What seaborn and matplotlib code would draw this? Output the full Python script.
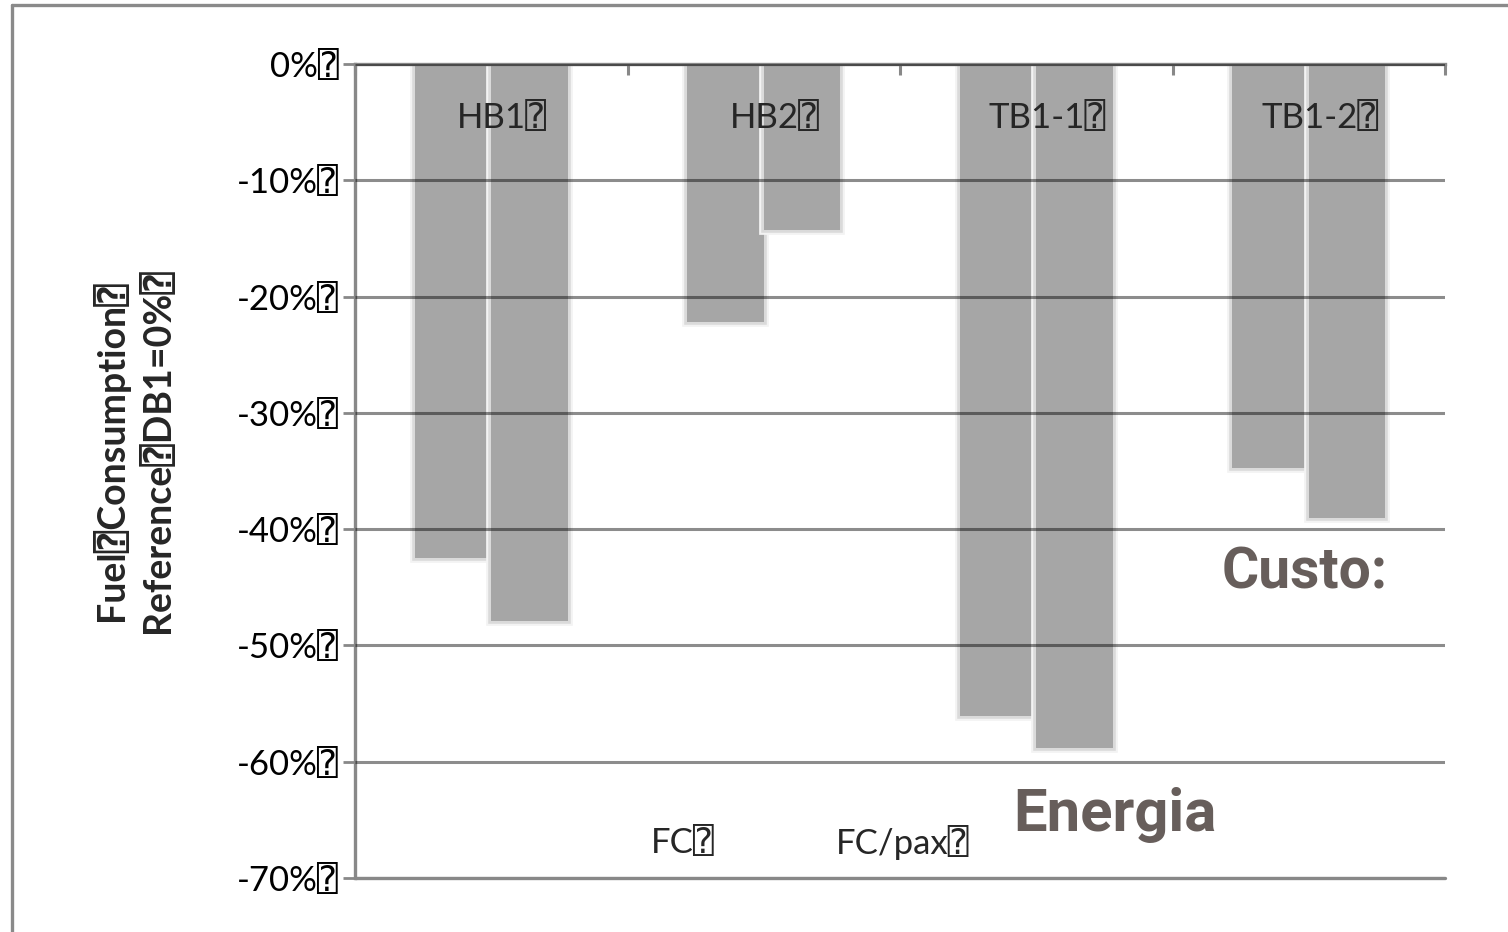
import matplotlib
matplotlib.use("Agg")
import matplotlib.pyplot as plt
import matplotlib.patheffects as pe
from matplotlib.lines import Line2D
import seaborn as sns
import pandas as pd

categories = ["HB1", "HB2", "TB1-1", "TB1-2"]
series = ["FC", "FC/pax"]
fc = [-0.425, -0.222, -0.561, -0.347]
fc_pax = [-0.479, -0.143, -0.588, -0.390]
yticks = [0.0, -0.1, -0.2, -0.3, -0.4, -0.5, -0.6, -0.7]
ytick_labels = ["0%", "-10%", "-20%", "-30%", "-40%", "-50%", "-60%", "-70%"]
ylabel_lines = ["Fuel\u2370Consumption\u2370", "Reference\u2370DB1=0%\u2370"]
BOX = "\u2370"

sns.set_theme(style="white")
FAM = ["Lato", "DejaVu Sans", "DejaVu Sans Mono"]
plt.rcParams["font.family"] = FAM

df = pd.DataFrame({
    "cat": categories * 2,
    "val": fc + fc_pax,
    "series": [series[0]] * 4 + [series[1]] * 4,
})

W, H = 1508, 932
fig = plt.figure(figsize=(W / 100, H / 100), dpi=100)
ax = fig.add_axes([355 / W, 1 - 878 / H, 1090 / W, (878 - 64) / H])

sns.barplot(data=df, x="cat", y="val", hue="series", order=categories,
            hue_order=series, palette=["#a6a6a6", "#a6a6a6"], width=0.56,
            dodge=True, legend=False, ax=ax, errorbar=None, saturation=1)
for p in ax.patches:
    p.set_linewidth(0)
    p.set_path_effects([pe.withStroke(linewidth=7, foreground="#f3f3f3"),
                        pe.withStroke(linewidth=4, foreground="#dadada"),
                        pe.Normal()])

ax.set_xlim(-0.5, 3.5)
ax.set_ylim(-0.70, 0.0)
ax.set_xlabel("")
ax.set_ylabel("")

grey = "#888888"
ax.set_yticks(yticks)
ax.set_yticklabels([t + BOX for t in ytick_labels], fontsize=25, color="black")
ax.tick_params(axis="y", direction="out", length=9, width=2, color=grey, pad=3, left=True)
ax.xaxis.tick_top()
ax.set_xticks([-0.5, 0.5, 1.5, 2.5, 3.5])
ax.set_xticklabels([])
ax.tick_params(axis="x", direction="in", length=8, width=2.2, color=grey, top=True, bottom=False)

ax.set_axisbelow(False)
ax.grid(axis="y", color="black", alpha=0.45, linewidth=2.2)
ax.grid(axis="x", visible=False)
ax.spines["right"].set_visible(False)
ax.spines["bottom"].set_visible(False)
ax.axhline(-0.70, color=grey, lw=2.4, zorder=3, clip_on=False)
for s in ["left", "top"]:
    ax.spines[s].set_color(grey)
    ax.spines[s].set_linewidth(2.4)

for i, c in enumerate(categories):
    ax.text(i + 0.04, -0.0464, c + BOX, ha="center", va="center", fontsize=25)

# y label (two bold lines)
fig.text(110 / W, 1 - 451 / H, ylabel_lines[0], rotation=90, ha="center", va="center",
         fontsize=27, fontweight="bold")
fig.text(157 / W, 1 - 451 / H, ylabel_lines[1], rotation=90, ha="center", va="center",
         fontsize=27, fontweight="bold")

# legend texts
fig.text(651 / W, 1 - 843 / H, series[0] + BOX, ha="left", va="center", fontsize=25)
fig.text(836 / W, 1 - 843 / H, series[1] + BOX, ha="left", va="center", fontsize=25)

# overlaid slide words
fig.text(1013 / W, 1 - 815 / H, "Energia", ha="left", va="center", fontsize=43,
         fontweight="bold", color="#675e5b", family=["Roboto", "DejaVu Sans"])
fig.text(1222 / W, 1 - 573 / H, "Custo:", ha="left", va="center", fontsize=41,
         fontweight="bold", color="#675e5b", family=["Roboto", "DejaVu Sans"])

# slide frame
fig.add_artist(Line2D([12 / W, 12 / W], [0, 1 - 5 / H], color="#8a8a8a", lw=2.4))
fig.add_artist(Line2D([12 / W, 1], [1 - 5 / H, 1 - 5 / H], color="#8a8a8a", lw=2.4))

fig.savefig("out.png", dpi=100)
